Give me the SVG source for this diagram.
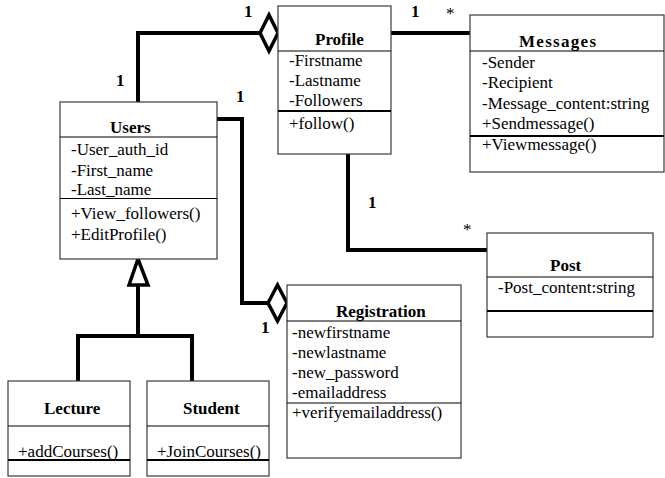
<svg xmlns="http://www.w3.org/2000/svg" width="665" height="478" viewBox="0 0 665 478">
<style>
.box{fill:#fff;stroke:#3a3a3a;stroke-width:1.2}
.div{stroke:#000;stroke-width:1.2}
.thick{stroke:#000;stroke-width:2.2}
.t{font-family:"Liberation Serif","Times New Roman",serif;font-size:17px;fill:#000}
.b{font-family:"Liberation Serif","Times New Roman",serif;font-size:17px;font-weight:bold;fill:#000}
.con{fill:none;stroke:#000;stroke-width:4}
.dia{fill:#fff;stroke:#000;stroke-width:3.5;stroke-linejoin:miter}
</style>
<rect width="665" height="478" fill="#fff"/>
<g id="connectors">
<polyline class="con" points="138,102 138,33 260,33"/>
<polyline class="con" points="217,119 242,119 242,303 268,303"/>
<line class="con" x1="391" y1="33" x2="470" y2="33"/>
<polyline class="con" points="348,154 348,250 487,250"/>
<line class="con" x1="138" y1="285" x2="138" y2="336"/>
<polyline class="con" points="78,381 78,336 192,336 192,381"/>
<polygon class="dia" points="260,33 269,15 278,33 269,51"/>
<polygon class="dia" points="268,303 277.5,285 287,303 277.5,321"/>
<polygon class="dia" points="138,259 129,285 148,285"/>
<text class="b" x="244" y="17">1</text>
<text class="b" x="116" y="86">1</text>
<text class="b" x="236" y="102">1</text>
<text class="b" x="411" y="17">1</text>
<text class="t" x="446" y="19">*</text>
<text class="b" x="368" y="208">1</text>
<text class="t" x="463" y="235">*</text>
<text class="b" x="261" y="333">1</text>
</g>
<g id="profile">
<rect class="box" x="278" y="6" width="113" height="148"/>
<text class="b" x="315" y="45">Profile</text>
<line class="div" x1="278" y1="51" x2="391" y2="51"/>
<text class="t" x="289" y="66">-Firstname</text>
<text class="t" x="289" y="86">-Lastname</text>
<text class="t" x="289" y="106">-Followers</text>
<line class="thick" x1="278" y1="111" x2="391" y2="111"/>
<text class="t" x="289" y="129">+follow()</text>
</g>
<g id="messages">
<rect class="box" x="470" y="15" width="194" height="157"/>
<text class="b" x="519" y="47" textLength="77">Messages</text>
<line class="div" x1="470" y1="51" x2="664" y2="51"/>
<text class="t" x="482" y="68">-Sender</text>
<text class="t" x="482" y="88">-Recipient</text>
<text class="t" x="482" y="109">-Message_content:string</text>
<text class="t" x="482" y="129">+Sendmessage()</text>
<line class="thick" x1="470" y1="136" x2="664" y2="136"/>
<text class="t" x="482" y="150">+Viewmessage()</text>
</g>
<g id="users">
<rect class="box" x="60" y="102" width="157" height="157"/>
<text class="b" x="110" y="133">Users</text>
<line class="div" x1="60" y1="137" x2="217" y2="137"/>
<text class="t" x="71" y="155">-User_auth_id</text>
<text class="t" x="71" y="176">-First_name</text>
<text class="t" x="71" y="195">-Last_name</text>
<line class="div" x1="60" y1="198.5" x2="217" y2="198.5"/>
<text class="t" x="71" y="219">+View_followers()</text>
<text class="t" x="71" y="240">+EditProfile()</text>
</g>
<g id="post">
<rect class="box" x="487" y="233" width="166" height="104"/>
<text class="b" x="550" y="271">Post</text>
<line class="div" x1="487" y1="277" x2="653" y2="277"/>
<text class="t" x="498" y="293">-Post_content:string</text>
<line class="thick" x1="487" y1="311" x2="653" y2="311"/>
</g>
<g id="registration">
<rect class="box" x="287" y="285" width="174" height="173"/>
<text class="b" x="336" y="317">Registration</text>
<line class="div" x1="287" y1="321" x2="461" y2="321"/>
<text class="t" x="292" y="338">-newfirstname</text>
<text class="t" x="292" y="358">-newlastname</text>
<text class="t" x="292" y="378">-new_password</text>
<text class="t" x="292" y="398">-emailaddress</text>
<line class="div" x1="287" y1="403" x2="461" y2="403"/>
<text class="t" x="292" y="418">+verifyemailaddress()</text>
</g>
<g id="lecture">
<rect class="box" x="8" y="381" width="122" height="95"/>
<text class="b" x="44" y="414">Lecture</text>
<line class="div" x1="8" y1="426" x2="130" y2="426"/>
<text class="t" x="18" y="457">+addCourses()</text>
<line class="thick" x1="8" y1="460" x2="130" y2="460"/>
</g>
<g id="student">
<rect class="box" x="147" y="381" width="122" height="95"/>
<text class="b" x="183" y="414">Student</text>
<line class="div" x1="147" y1="426" x2="269" y2="426"/>
<text class="t" x="157" y="457">+JoinCourses()</text>
<line class="thick" x1="147" y1="460" x2="269" y2="460"/>
</g>
</svg>
